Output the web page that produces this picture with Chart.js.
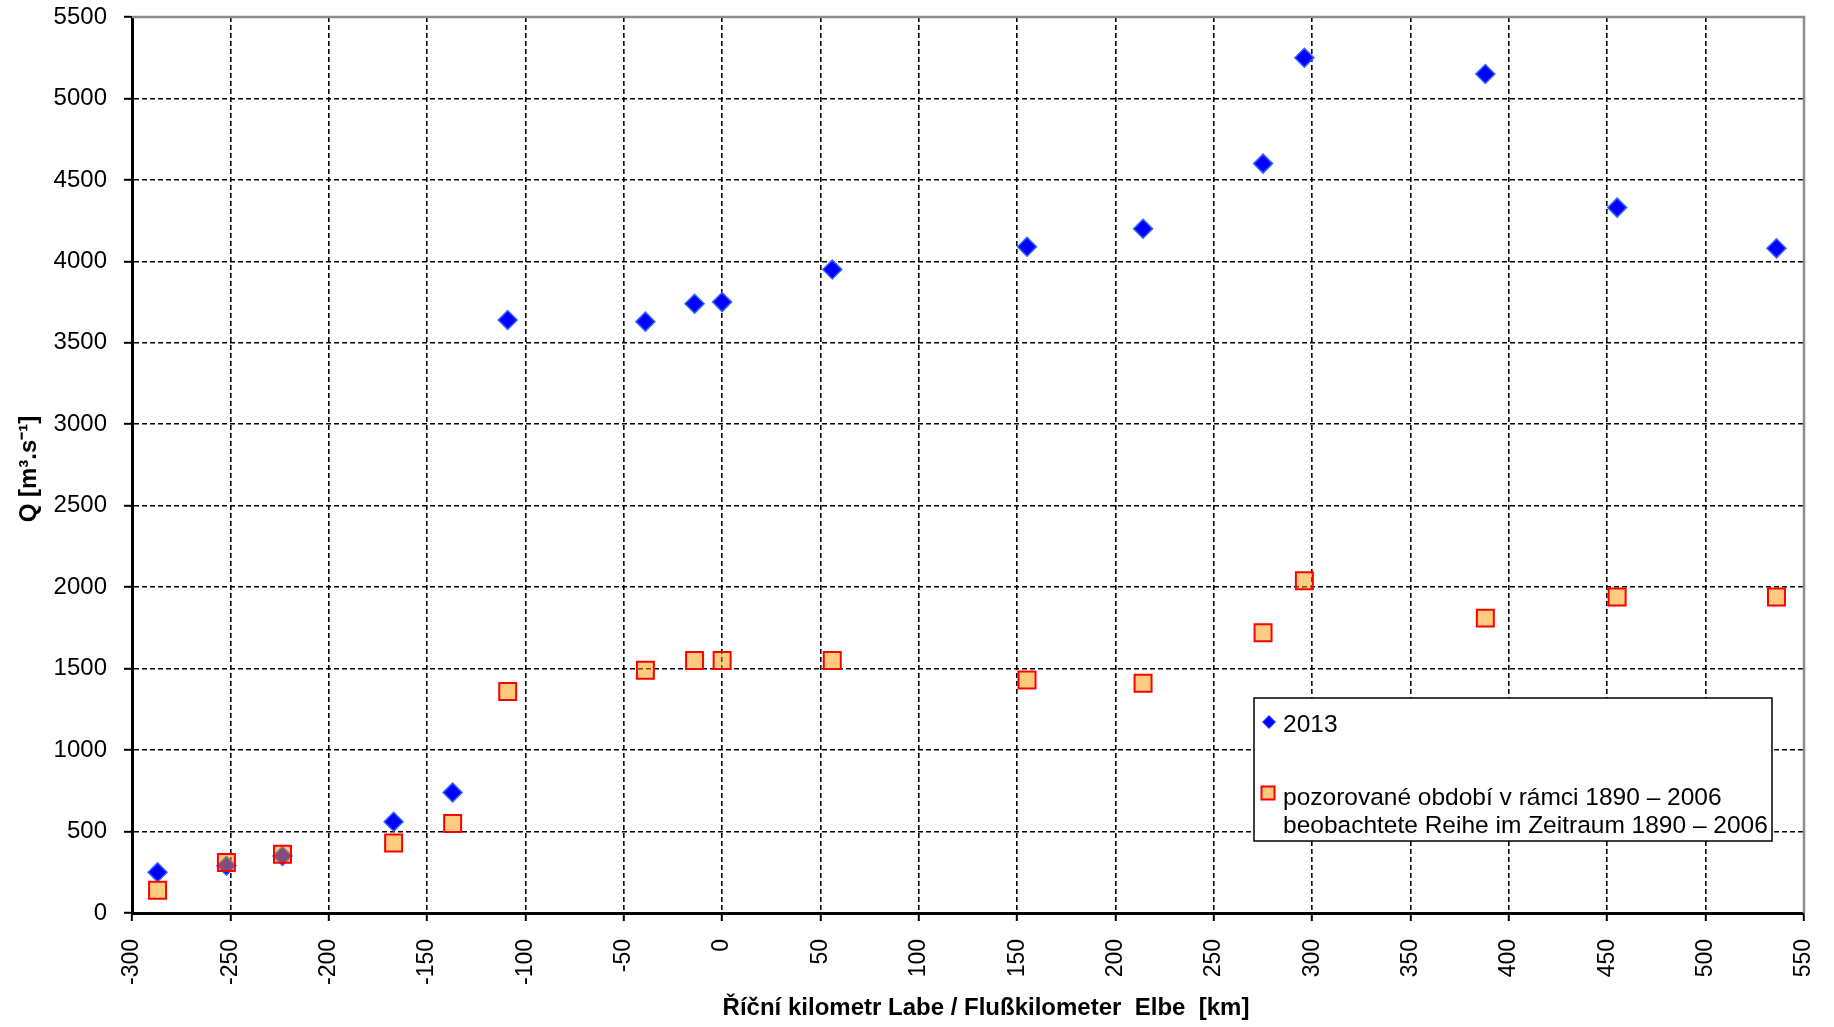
<!DOCTYPE html>
<html><head><meta charset="utf-8">
<script src="https://cdn.jsdelivr.net/npm/chart.js@4.4.0/dist/chart.umd.min.js"></script>
<style>html,body{margin:0;padding:0;background:#fff;overflow:hidden}#wrap{position:relative;width:1834px;height:1027px}</style>
</head><body><div id="wrap"><canvas id="c" width="1834" height="1027"></canvas></div>
<script>
const riverKm = [-287, -252, -223.5, -167, -137, -109, -39, -14, 0, 56, 155, 214, 275, 296, 388, 455, 536];
const q2013 = [250, 290, 350, 560, 740, 3640, 3630, 3740, 3750, 3950, 4090, 4200, 4600, 5250, 5150, 4330, 4080];
const qHist = [140, 310, 360, 430, 550, 1360, 1490, 1550, 1550, 1550, 1430, 1410, 1720, 2040, 1810, 1940, 1940];
const label2013 = '2013';
const labelHist = ['pozorované období v rámci 1890 – 2006', 'beobachtete Reihe im Zeitraum 1890 – 2006'];
const xTitle = 'Říční kilometr Labe / Flußkilometer  Elbe  [km]';
const yTitle = 'Q [m³.s⁻¹]';
const xMin = -300, xMax = 550, xStep = 50;
const yMin = 0, yMax = 5500, yStep = 500;

const FONT = "'Liberation Sans', Arial, sans-serif";

const frameAndLegend = {
  id: 'frameAndLegend',
  afterDraw(chart) {
    const {ctx, chartArea: a} = chart;
    ctx.save();
    ctx.setLineDash([]);
    ctx.strokeStyle = '#8c8c8c';
    ctx.lineWidth = 2.5;
    ctx.beginPath();
    ctx.moveTo(a.left, a.top);
    ctx.lineTo(a.right, a.top);
    ctx.lineTo(a.right, a.bottom);
    ctx.stroke();

    // legend box
    const bx = 1254, by = 698, bw = 518, bh = 143;
    ctx.fillStyle = '#fff';
    ctx.fillRect(bx, by, bw, bh);
    ctx.strokeStyle = '#000';
    ctx.lineWidth = 1.5;
    ctx.strokeRect(bx, by, bw, bh);

    // diamond marker
    const dx = 1269, dy = 722, r = 6.5;
    ctx.beginPath();
    ctx.moveTo(dx - r, dy); ctx.lineTo(dx, dy - r); ctx.lineTo(dx + r, dy); ctx.lineTo(dx, dy + r);
    ctx.closePath();
    ctx.fillStyle = '#0000FF'; ctx.fill();
    ctx.strokeStyle = '#3355FF'; ctx.lineWidth = 1; ctx.stroke();

    // square marker
    const sx = 1268, sy = 793, s = 13;
    ctx.fillStyle = 'rgba(255,153,0,0.5)';
    ctx.fillRect(sx - s / 2, sy - s / 2, s, s);
    ctx.strokeStyle = '#FF0000'; ctx.lineWidth = 2;
    ctx.strokeRect(sx - s / 2, sy - s / 2, s, s);

    ctx.fillStyle = '#000';
    ctx.font = '24.5px ' + FONT;
    ctx.textBaseline = 'middle';
    ctx.textAlign = 'left';
    ctx.fillText(label2013, 1283, 725);
    ctx.fillText(labelHist[0], 1283, 798);
    ctx.fillText(labelHist[1], 1283, 826);

    // axis titles
    ctx.font = 'bold 24px ' + FONT;
    ctx.textAlign = 'center';
    ctx.fillText(xTitle, 986, 1008);
    ctx.translate(29, 469);
    ctx.rotate(-Math.PI / 2);
    ctx.fillText(yTitle, 0, 0);
    ctx.restore();
  }
};

new Chart(document.getElementById('c'), {
  type: 'scatter',
  data: {
    datasets: [
      {
        label: labelHist.join(' '),
        data: riverKm.map((x, i) => ({x, y: qHist[i]})),
        pointStyle: 'rect',
        pointRadius: 12,
        pointHoverRadius: 12,
        backgroundColor: 'rgba(255,153,0,0.5)',
        borderColor: '#FF0000',
        borderWidth: 2,
        clip: false
      },
      {
        label: label2013,
        data: riverKm.map((x, i) => ({x, y: q2013[i]})),
        pointStyle: 'rectRot',
        pointRadius: 9.5,
        pointHoverRadius: 9.5,
        backgroundColor: '#0000FF',
        borderColor: '#3366FF',
        borderWidth: 1.5,
        clip: false
      }
    ]
  },
  options: {
    responsive: false,
    devicePixelRatio: 1,
    animation: false,
    layout: {padding: {left: 14, right: 30, top: 17, bottom: 0}},
    plugins: {legend: {display: false}, tooltip: {enabled: false}},
    scales: {
      x: {
        type: 'linear',
        min: xMin, max: xMax,
        afterFit(s) { s.height = 114; s.paddingLeft = 0; s.paddingRight = 0; },
        ticks: {
          stepSize: xStep,
          maxRotation: 90, minRotation: 90,
          padding: 18,
          color: '#000',
          font: {family: FONT, size: 23},
          callback: v => String(v)
        },
        grid: {
          color: '#000', lineWidth: 1.6,
          tickLength: 8, tickColor: '#000', tickWidth: 2, tickBorderDash: []
        },
        border: {display: true, color: '#000', width: 3, dash: [5, 3]}
      },
      y: {
        type: 'linear',
        min: yMin, max: yMax,
        afterFit(s) { s.width = 118; s.paddingTop = 0; s.paddingBottom = 0; },
        ticks: {
          stepSize: yStep,
          padding: 17,
          color: '#000',
          font: {family: FONT, size: 24},
          callback: v => String(v)
        },
        grid: {
          color: '#000', lineWidth: 1.6,
          tickLength: 8, tickColor: '#000', tickWidth: 2, tickBorderDash: []
        },
        border: {display: true, color: '#000', width: 3, dash: [5, 3]}
      }
    }
  },
  plugins: [frameAndLegend]
});
</script>
</body></html>
